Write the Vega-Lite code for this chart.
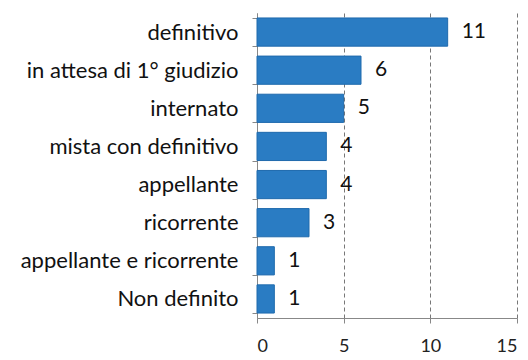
{
  "$schema": "https://vega.github.io/schema/vega-lite/v6.json",
  "width": 260,
  "height": 305,
  "autosize": {"type": "none"},
  "padding": {"left": 257, "top": 13, "right": 11, "bottom": 42},
  "background": "white",
  "data": {"values": [
    {"categoria": "definitivo", "n": 11},
    {"categoria": "in attesa di 1° giudizio", "n": 6},
    {"categoria": "internato", "n": 5},
    {"categoria": "mista con definitivo", "n": 4},
    {"categoria": "appellante", "n": 4},
    {"categoria": "ricorrente", "n": 3},
    {"categoria": "appellante e ricorrente", "n": 1},
    {"categoria": "Non definito", "n": 1}
  ]},
  "encoding": {
    "y": {
      "field": "categoria", "type": "nominal", "sort": null, "title": null,
      "scale": {"paddingInner": 0.26, "paddingOuter": 0.13},
      "axis": {
        "tickBand": "extent", "tickSize": 5, "tickColor": "#888", "domainColor": "#888",
        "labelFont": "Lato", "labelFontSize": 22, "labelColor": "#111", "labelPadding": 14,
        "labelLimit": 300, "grid": false
      }
    },
    "x": {
      "field": "n", "type": "quantitative", "title": null,
      "scale": {"domain": [0, 15], "nice": false},
      "axis": {
        "values": [0, 5, 10, 15], "tickSize": 5, "tickColor": "#888", "domainColor": "#888",
        "labelFont": "Lato", "labelFontSize": 18, "labelColor": "#222", "labelPadding": 14,
        "grid": true, "gridDash": [4, 3], "gridColor": "#777", "gridWidth": 1
      }
    }
  },
  "layer": [
    {"mark": {"type": "bar", "color": "#2a7cc3", "stroke": "#1f6aad", "strokeWidth": 1}},
    {"mark": {"type": "text", "align": "left", "dx": 14, "font": "Lato", "fontSize": 21, "color": "#111"},
     "encoding": {"text": {"field": "n", "type": "quantitative"}}}
  ],
  "config": {"view": {"stroke": null}}
}
